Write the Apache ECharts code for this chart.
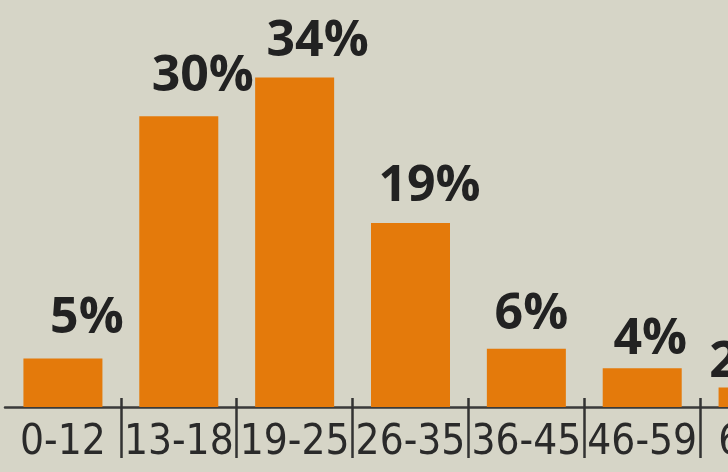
<!DOCTYPE html>
<html>
<head>
<meta charset="utf-8">
<script src="https://cdn.jsdelivr.net/npm/echarts@6/dist/echarts.min.js"></script>
<style>
  html, body { margin: 0; padding: 0; background: #d6d5c7; overflow: hidden; width: 728px; height: 472px; }
  #chart { width: 820px; height: 472px; }
</style>
</head>
<body>
<div id="chart"></div>
<script>
// ---- data ----
const categories = ['0-12', '13-18', '19-25', '26-35', '36-45', '46-59', '60+'];
const shares = [5, 30, 34, 19, 6, 4, 2];
const valueLabels = ['5%', '30%', '34%', '19%', '6%', '4%', '2%'];

// ---- styling ----
const labelShift = [[24, -4], [24, -4], [23, 0], [19, 0], [5, 2], [8, 8], [-12, 11]];

const chart = echarts.init(document.getElementById('chart'));
const labelFont = "'DejaVu Sans Condensed', 'Liberation Sans Narrow', sans-serif";

chart.setOption({
  backgroundColor: '#d6d5c7',
  animation: false,
  grid: { left: 5, right: 4, top: 0, bottom: 65, containLabel: false },
  xAxis: [
    {
      type: 'category',
      data: categories,
      position: 'bottom',
      axisLine: { show: true, lineStyle: { color: '#3a3a3a', width: 2.5 } },
      axisTick: {
        show: true, length: 51, inside: false,
        interval: function (i) { return i > 0; },
        lineStyle: { color: '#333333', width: 2.5 }
      },
      axisLabel: {
        show: true, margin: 15, color: '#2a2a2a',
        fontSize: 42, fontFamily: labelFont, fontWeight: 'normal',
        interval: 0
      },
      splitLine: { show: false }
    },
    {
      type: 'category',
      data: categories,
      position: 'bottom',
      axisLine: { show: false },
      axisTick: {
        show: true, length: 9, inside: true,
        interval: function (i) { return i > 0; },
        lineStyle: { color: '#333333', width: 2.5 }
      },
      axisLabel: { show: false },
      splitLine: { show: false }
    }
  ],
  yAxis: {
    type: 'value', min: 0, max: 42,
    show: false,
    splitLine: { show: false }
  },
  series: [{
    type: 'bar',
    xAxisIndex: 0,
    barWidth: 79,
    itemStyle: { color: '#e47a0b' },
    data: shares.map(function (v, i) {
      return {
        value: v,
        label: {
          show: true,
          position: 'top',
          distance: 11,
          offset: labelShift[i],
          formatter: valueLabels[i],
          color: '#222222',
          fontSize: 50,
          fontWeight: 'bold',
          fontFamily: "'Open Sans', 'DejaVu Sans', sans-serif"
        }
      };
    })
  }]
});
</script>
</body>
</html>
